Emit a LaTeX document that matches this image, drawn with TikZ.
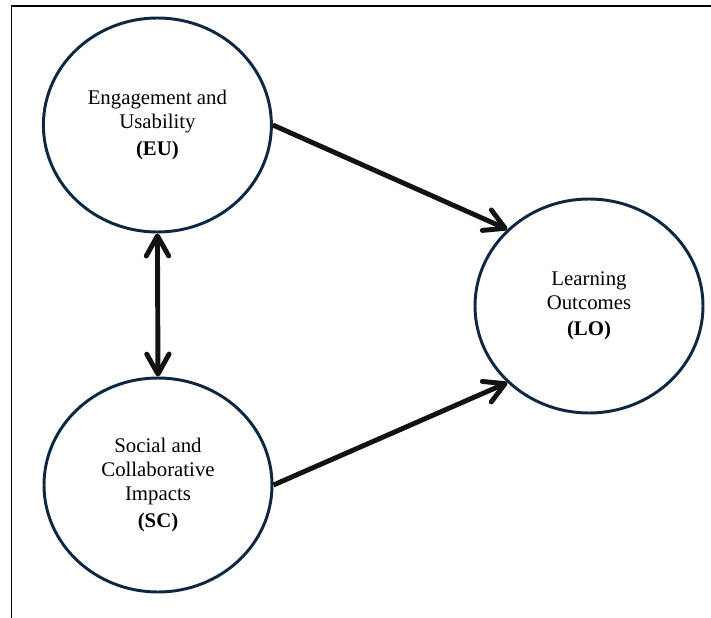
\documentclass[tikz,border=0pt]{standalone}
\usepackage{fontspec}
\setmainfont{Liberation Serif}
\usetikzlibrary{arrows.meta, shapes.geometric}
\definecolor{circlecolor}{RGB}{14,40,65}

\begin{document}
\begin{tikzpicture}[
    construct/.style={draw=circlecolor, ellipse, line width=2.1pt, minimum width=5.7cm, minimum height=5.35cm, inner sep=0pt, align=center, font=\fontsize{14.8}{17}\selectfont},
    link/.style={line width=3.5pt, draw=black!93},
    >={Straight Barb[length=5mm, width=5.6mm, round]}
]
  \useasboundingbox (0,0) rectangle (17.775,-15.45);

  % Frame
  \draw[line width=1.4pt] (17.775,-0.15) -- (0.2875,-0.15) -- (0.2875,-15.45);

  % Constructs
  \node[construct] (EU) at (3.935, -3.125) {Engagement and\\Usability\\[2pt]\textbf{(EU)}};

  \node[construct] (SC) at (3.95, -12.125) {Social and\\Collaborative\\Impacts\\[2pt]\textbf{(SC)}};

  \node[construct] (LO) at (14.725, -7.65) {Learning\\Outcomes\\[2pt]\textbf{(LO)}};

  % Relations
  \draw[link, <->] (EU.south) -- (SC.north);
  \draw[link, ->] (EU.east) -- (LO.north west);
  \draw[link, ->] (SC.east) -- (LO.south west);
\end{tikzpicture}
\end{document}
